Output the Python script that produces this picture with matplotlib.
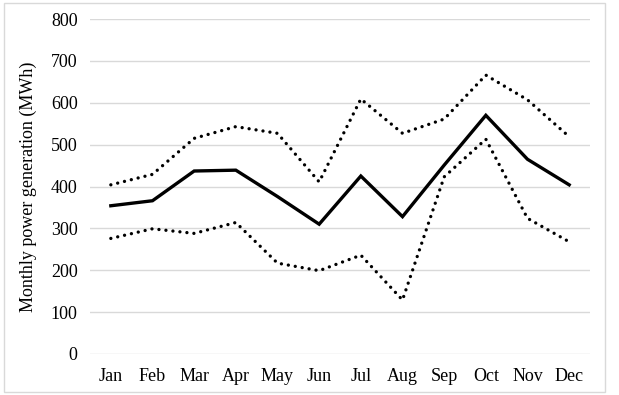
import matplotlib
matplotlib.use("Agg")
import matplotlib.pyplot as plt
from matplotlib.patches import Rectangle

months = ["Jan", "Feb", "Mar", "Apr", "May", "Jun", "Jul", "Aug", "Sep", "Oct", "Nov", "Dec"]
mean_gen = [354, 366, 437, 439, 376, 310, 425, 328, 451, 570, 465, 404]
upper_gen = [404, 429, 515, 543, 527, 411, 609, 527, 561, 666, 607, 519]
lower_gen = [276, 299, 288, 314, 217, 199, 236, 129, 423, 513, 324, 268]

plt.rcParams["font.family"] = ["Liberation Serif", "DejaVu Serif"]

fig = plt.figure(figsize=(6.19, 3.95), dpi=100)
fig.patch.set_facecolor("white")
ax = fig.add_axes([90 / 619, 41 / 395, 500 / 619, 335 / 395])

x = list(range(len(months)))
ax.plot(x, upper_gen, color="black", lw=2.4, ls=(0, (0.01, 2.1)), dash_capstyle="round")
ax.plot(x, lower_gen, color="black", lw=2.4, ls=(0, (0.01, 2.1)), dash_capstyle="round")
ax.plot(x, mean_gen, color="black", lw=2.4, solid_joinstyle="miter")

ax.set_xlim(-0.5, len(months) - 0.5)
ax.set_ylim(0, 800)
ax.set_yticks(range(0, 801, 100))
ax.set_xticks(x)
ax.set_xticklabels(months)
ax.tick_params(axis="both", length=0, labelsize=13, colors="black")
ax.tick_params(axis="y", pad=9)
ax.tick_params(axis="x", pad=10)
ax.grid(axis="y", color="#d9d9d9", lw=1)
ax.set_axisbelow(True)
for s in ax.spines.values():
    s.set_visible(False)
ax.set_ylabel("Monthly power generation (MWh)", fontsize=13, labelpad=10)

fig.patches.append(Rectangle((4 / 619, 3 / 395), 601 / 619, 389 / 395, transform=fig.transFigure,
                             fill=False, ec="#d9d9d9", lw=1))

fig.savefig("out.png", dpi=100, facecolor="white")
